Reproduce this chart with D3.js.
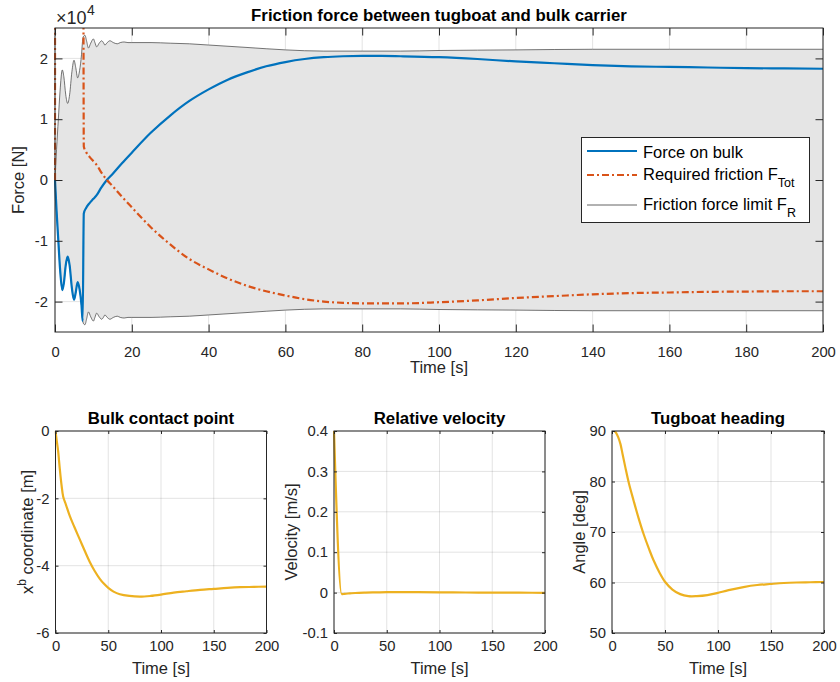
<!DOCTYPE html>
<html>
<head>
<meta charset="utf-8">
<script src="https://cdn.jsdelivr.net/npm/d3@7"></script>
<style>
  body { margin: 0; background: #fff; }
  svg { display: block; font-family: "Liberation Sans", Arial, Helvetica, sans-serif; }
</style>
</head>
<body>
<svg id="fig" width="840" height="682"></svg>
<script>
// ---------------- data ----------------
// Forces are given in units of 1e4 N (the axis carries a x10^4 multiplier).

// Force on bulk
const forceTime = [0, 0.4, 0.87, 1.3, 1.9, 2.3, 2.8, 3.3, 3.8, 4.4, 4.95, 5.4, 5.9, 6.4, 6.9, 7.2,
  7.5, 8.1, 9, 10, 10.85, 12, 13.5, 15, 17.5, 20, 25, 30, 35, 40, 45, 50, 55, 60, 65, 70, 75,
  80, 85, 90, 100, 110, 120, 130, 140, 150, 160, 170, 180, 190, 200];
const forceOnBulk = [0, -0.5, -1.0, -1.45, -1.81, -1.7, -1.4, -1.26, -1.4, -1.78, -1.97, -1.85, -1.68, -1.8, -2.06, -2.32,
  -0.55, -0.46, -0.38, -0.31, -0.25, -0.13, 0, 0.1, 0.28, 0.45, 0.78, 1.06, 1.30, 1.49, 1.65, 1.77, 1.87, 1.94, 1.99, 2.02, 2.035,
  2.04, 2.04, 2.035, 2.02, 1.99, 1.95, 1.92, 1.89, 1.87, 1.86, 1.85, 1.84, 1.835, 1.83];

// Required friction F_Tot (very large while slipping, beyond the axis limits)
const reqTime = [0, 0.02, 7.3, 7.5, 8.1, 9, 10, 10.85, 12, 13.5, 15, 17.5, 20, 25, 30, 35, 40, 45, 50,
  55, 60, 65, 70, 75, 80, 85, 90, 100, 110, 120, 130, 140, 150, 160, 170, 180, 190, 200];
const requiredFriction = [0, 6, 6, 0.55, 0.46, 0.38, 0.31, 0.25, 0.13, 0, -0.1, -0.28, -0.45, -0.78, -1.06, -1.30, -1.47, -1.62, -1.74,
  -1.83, -1.9, -1.96, -2.0, -2.02, -2.03, -2.03, -2.03, -2.01, -1.98, -1.94, -1.91, -1.88, -1.86, -1.85, -1.84, -1.835, -1.83, -1.83];

// Friction force limit F_R (band is +/- F_R)
const limitTime = [0, 0.4, 0.87, 1.3, 1.9, 2.3, 2.8, 3.3, 3.8, 4.4, 4.95, 5.4, 5.9, 6.4, 6.9, 7.2, 7.5, 7.8,
  8.25, 8.7, 9.3, 10.0, 10.4, 10.85, 11.5, 12.15, 12.6, 13.0, 13.6, 14.3, 15.2, 16.2, 17, 18, 19, 20,
  25, 30, 35, 40, 50, 60, 70, 80, 90, 100, 120, 140, 160, 180, 200];
const frictionLimit = [0, 0.5, 1.0, 1.45, 1.81, 1.7, 1.4, 1.26, 1.4, 1.78, 1.97, 1.85, 1.68, 1.8, 2.06, 2.3, 2.37, 2.38,
  2.28, 2.17, 2.25, 2.32, 2.26, 2.19, 2.25, 2.29, 2.26, 2.22, 2.26, 2.29, 2.26, 2.24, 2.26, 2.27, 2.26, 2.26,
  2.26, 2.25, 2.24, 2.22, 2.18, 2.14, 2.12, 2.12, 2.12, 2.13, 2.14, 2.15, 2.15, 2.15, 2.15];

// Bulk contact point x^b [m]
const contactTime = [0, 1, 2.5, 4, 5.7, 7.3, 10, 13.6, 18, 23, 28, 32.5, 37, 42, 46, 50, 55, 61, 70, 80,
  90, 100, 112, 124, 137, 150, 163, 175, 188, 200];
const contactX = [0, -0.25, -0.6, -1.1, -1.6, -1.95, -2.2, -2.53, -2.86, -3.22, -3.58, -3.89, -4.15, -4.39, -4.54, -4.66, -4.77, -4.85, -4.9, -4.92,
  -4.9, -4.86, -4.8, -4.76, -4.72, -4.69, -4.66, -4.64, -4.63, -4.62];

// Relative velocity [m/s]
const velTime = [0, 7.3, 10, 15, 20, 30, 40, 50, 75, 100, 125, 150, 175, 200];
const relVelocity = [0.4, -0.004, -0.003, -0.002, -0.001, 0, 0.0005, 0.001, 0.001, 0.0005, 0.0003, 0, -0.0003, -0.0005];

// Tugboat heading [deg]
const headingTime = [0, 2, 4, 6, 8, 10, 12.5, 16, 20.4, 25, 29.8, 35, 39.2, 45, 50.2, 57, 64.3, 72, 80,
  90, 99, 110, 124, 137, 149, 162, 174, 187, 200];
const heading = [90, 90, 89.6, 88.7, 87.4, 85.4, 82.9, 79.6, 76.2, 72.8, 69.6, 66.6, 64.4, 61.9, 60.1, 58.6, 57.7, 57.3, 57.3,
  57.5, 57.9, 58.5, 59.1, 59.5, 59.7, 59.9, 60.0, 60.05, 60.1];

// Tick values
const topXTicks = d3.range(0, 201, 20);
const topYTicks = [-2, -1, 0, 1, 2];
const smallXTicks = [0, 50, 100, 150, 200];
const contactTicks = [-6, -4, -2, 0];
const velocityTicks = [-0.1, 0, 0.1, 0.2, 0.3, 0.4];
const headingTicks = [50, 60, 70, 80, 90];

// Legend entries of the force plot
const legendLabels = [
  { main: "Force on bulk", sub: "" },
  { main: "Required friction F", sub: "Tot" },
  { main: "Friction force limit F", sub: "R" }
];

// ---------------- styling ----------------
const INK = "#262626";
const BLUE = "#0072BD", ORANGE = "#D95319", YELLOW = "#EDB120", LIMIT = "#3c3c3c";
const DASHDOT = "7,3,2,3";

const svg = d3.select("#fig");
const defs = svg.append("defs");
let clipCount = 0;

function zip(xs, ys) { return xs.map((t, i) => [t, ys[i]]); }

// Builds one axes box: scales, grid, clip group for the data
function makeAxes(o) {
  const x = d3.scaleLinear().domain(o.xDomain).range([o.left, o.right]);
  const y = d3.scaleLinear().domain(o.yDomain).range([o.bottom, o.top]);
  const g = svg.append("g");

  const grid = g.append("g").attr("stroke", INK).attr("stroke-opacity", 0.13).attr("stroke-width", 1);
  grid.selectAll(".gx").data(o.xTicks).join("line")
    .attr("x1", d => x(d)).attr("x2", d => x(d)).attr("y1", o.top).attr("y2", o.bottom);
  grid.selectAll(".gy").data(o.yTicks).join("line")
    .attr("y1", d => y(d)).attr("y2", d => y(d)).attr("x1", o.left).attr("x2", o.right);

  const id = "clip" + (clipCount++);
  defs.append("clipPath").attr("id", id).append("rect")
    .attr("x", o.left - 1).attr("y", o.top).attr("width", o.right - o.left + 2).attr("height", o.bottom - o.top);
  const data = g.append("g").attr("clip-path", `url(#${id})`);
  return { x, y, g, data, o };
}

// Inward ticks on all four sides, tick labels, box, title and axis labels
function finishAxes(ax) {
  const { x, y, g, o } = ax;
  const fmt = o.fmt || (d => String(d));
  const axG = g.append("g").attr("color", INK);

  axG.append("g").attr("transform", `translate(0,${o.bottom})`)
    .call(d3.axisBottom(x).tickValues(o.xTicks).tickSize(-o.tick).tickSizeOuter(0).tickPadding(o.xPad).tickFormat(d => String(d)))
    .call(s => s.select(".domain").remove())
    .call(s => s.selectAll("text").attr("font-size", o.tickFont).attr("fill", INK));
  axG.append("g").attr("transform", `translate(0,${o.top})`)
    .call(d3.axisTop(x).tickValues(o.xTicks).tickSize(-o.tick).tickSizeOuter(0).tickFormat(""))
    .call(s => s.select(".domain").remove());
  axG.append("g").attr("transform", `translate(${o.left},0)`)
    .call(d3.axisLeft(y).tickValues(o.yTicks).tickSize(-o.tick).tickSizeOuter(0).tickPadding(o.yPad).tickFormat(fmt))
    .call(s => s.select(".domain").remove())
    .call(s => s.selectAll("text").attr("font-size", o.tickFont).attr("fill", INK));
  axG.append("g").attr("transform", `translate(${o.right},0)`)
    .call(d3.axisRight(y).tickValues(o.yTicks).tickSize(-o.tick).tickSizeOuter(0).tickFormat(""))
    .call(s => s.select(".domain").remove());
  axG.selectAll("g").attr("font-family", null);
  axG.selectAll(".tick line").attr("stroke", INK).attr("stroke-width", 1);

  g.append("rect").attr("x", o.left).attr("y", o.top)
    .attr("width", o.right - o.left).attr("height", o.bottom - o.top)
    .attr("fill", "none").attr("stroke", INK).attr("stroke-width", 1);

  g.append("text").attr("x", (o.left + o.right) / 2).attr("y", o.titleY)
    .attr("text-anchor", "middle").attr("font-weight", "bold").attr("font-size", o.titleFont)
    .attr("fill", "#000").text(o.title);

  g.append("text").attr("x", (o.left + o.right) / 2).attr("y", o.xLabelY)
    .attr("text-anchor", "middle").attr("font-size", 16.5).attr("fill", INK).text("Time [s]");

  const yl = g.append("text")
    .attr("transform", `translate(${o.yLabelX},${(o.top + o.bottom) / 2}) rotate(-90)`)
    .attr("text-anchor", "middle").attr("font-size", 16.5).attr("fill", INK);
  o.yLabel(yl);
}

// ---------------- friction force plot ----------------
const forceAx = makeAxes({
  left: 55, right: 823, top: 28, bottom: 332,
  xDomain: [0, 200], yDomain: [-2.5, 2.5],
  xTicks: topXTicks, yTicks: topYTicks,
  tick: 7.5, xPad: 14, yPad: 7, tickFont: 14.8, titleFont: 16.8, titleY: 20.5,
  title: "Friction force between tugboat and bulk carrier", xLabelY: 373, yLabelX: 24,
  yLabel: t => t.text("Force [N]")
});

const limitPts = zip(limitTime, frictionLimit);
const smooth = d3.line().curve(d3.curveMonotoneX);
const smoother = d3.line().curve(d3.curveCatmullRom.alpha(0.5));

forceAx.data.append("path")
  .attr("d", d3.area().curve(d3.curveMonotoneX)
    .x(d => forceAx.x(d[0])).y0(d => forceAx.y(-d[1])).y1(d => forceAx.y(d[1]))(limitPts))
  .attr("fill", "#e5e5e5");

[1, -1].forEach(sign => {
  forceAx.data.append("path")
    .attr("d", smooth(limitPts.map(d => [forceAx.x(d[0]), forceAx.y(sign * d[1])])))
    .attr("fill", "none").attr("stroke", LIMIT).attr("stroke-width", 0.7);
});

forceAx.data.append("path")
  .attr("d", smooth(zip(forceTime, forceOnBulk).map(d => [forceAx.x(d[0]), forceAx.y(d[1])])))
  .attr("fill", "none").attr("stroke", BLUE).attr("stroke-width", 2.2);

forceAx.data.append("path")
  .attr("d", smooth(zip(reqTime, requiredFriction).map(d => [forceAx.x(d[0]), forceAx.y(d[1])])))
  .attr("fill", "none").attr("stroke", ORANGE).attr("stroke-width", 2.2)
  .attr("stroke-dasharray", DASHDOT);

finishAxes(forceAx);

// exponent label of the force axis
const expo = svg.append("text").attr("x", 56).attr("y", 24).attr("fill", INK)
  .style("font-size", "18px");
expo.append("tspan").text("\u00d710");
expo.append("tspan").style("font-size", "14px").attr("dx", 0.5).attr("dy", -9).text("4");

// legend
const legend = svg.append("g");
legend.append("rect").attr("x", 581.5).attr("y", 137.5).attr("width", 228).attr("height", 85)
  .attr("fill", "#fff").attr("stroke", INK).attr("stroke-width", 1);
const legendStyles = [
  { color: BLUE, width: 2.2, dash: null, lineY: 151, textY: 158 },
  { color: ORANGE, width: 2.2, dash: DASHDOT, lineY: 175, textY: 180 },
  { color: LIMIT, width: 0.8, dash: null, lineY: 205, textY: 209.5 }
];
legendLabels.forEach((lab, i) => {
  const s = legendStyles[i];
  legend.append("line").attr("x1", 587).attr("x2", 637).attr("y1", s.lineY).attr("y2", s.lineY)
    .attr("stroke", s.color).attr("stroke-width", s.width).attr("stroke-dasharray", s.dash);
  const t = legend.append("text").attr("x", 643).attr("y", s.textY).attr("font-size", 16.5).attr("fill", "#000");
  t.append("tspan").text(lab.main);
  if (lab.sub) t.append("tspan").attr("font-size", 12.5).attr("dy", 7).text(lab.sub);
});

// ---------------- three small plots ----------------
const small = [
  {
    left: 55.5, right: 266.5, yDomain: [-6, 0], yTicks: contactTicks,
    title: "Bulk contact point", yLabelX: 33, t: contactTime, v: contactX, line: smoother,
    yLabel: t => { t.append("tspan").text("x"); t.append("tspan").attr("font-size", 12).attr("dy", -7).text("b");
                   t.append("tspan").attr("dy", 7).text(" coordinate [m]"); }
  },
  {
    left: 334, right: 545, yDomain: [-0.1, 0.4], yTicks: velocityTicks,
    title: "Relative velocity", yLabelX: 297, t: velTime, v: relVelocity, line: smooth,
    fmt: d => (Math.abs(d) < 1e-9 ? "0" : String(+d.toFixed(1))),
    yLabel: t => t.text("Velocity [m/s]")
  },
  {
    left: 612, right: 824, yDomain: [50, 90], yTicks: headingTicks,
    title: "Tugboat heading", yLabelX: 585, t: headingTime, v: heading, line: smoother,
    yLabel: t => t.text("Angle [deg]")
  }
];

small.forEach(p => {
  const ax = makeAxes(Object.assign({
    top: 431, bottom: 633, xDomain: [0, 200], xTicks: smallXTicks,
    tick: 3, xPad: 7.5, yPad: 6, tickFont: 14.8, titleFont: 16.8, titleY: 424, xLabelY: 674
  }, p));
  ax.data.append("path")
    .attr("d", p.line(zip(p.t, p.v).map(d => [ax.x(d[0]), ax.y(d[1])])))
    .attr("fill", "none").attr("stroke", YELLOW).attr("stroke-width", 2.2);
  finishAxes(ax);
});
</script>
</body>
</html>
